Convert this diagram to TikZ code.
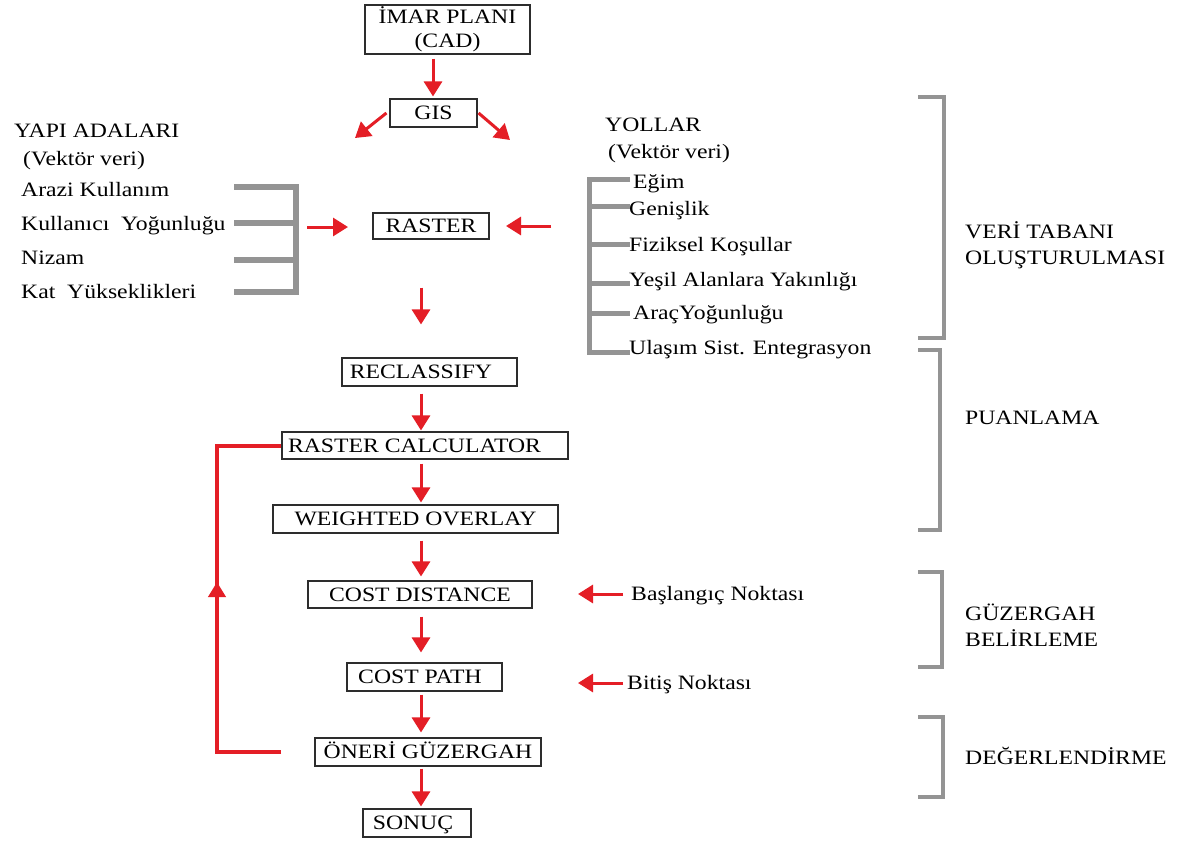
\documentclass[tikz,border=0pt]{standalone}
\usepackage{fontspec}
\setmainfont[FakeStretch=1.16]{Liberation Serif}
\usetikzlibrary{arrows.meta,decorations.markings}
\definecolor{flowred}{RGB}{228,30,38}
\definecolor{brgray}{RGB}{148,148,148}
\definecolor{boxline}{RGB}{45,45,45}
\begin{document}
\begin{tikzpicture}[x=1bp,y=-1bp,
  every node/.style={font=\fontsize{20.5}{26}\selectfont},
  box/.style={draw=boxline,line width=1.1bp,inner sep=0pt,text height=14bp,text depth=1bp},
  lbl/.style={anchor=west,inner sep=0pt,text height=14bp,text depth=2bp},
  grp/.style={anchor=west,inner sep=0pt,align=left},
  arr/.style={color=flowred,line width=3bp,-{Triangle[length=15bp,width=18bp]}},
  feedback/.style={color=flowred,line width=4bp},
  brk/.style={draw=brgray,line width=5bp},
  phase/.style={draw=brgray,line width=4bp}]

\fill[white] (0,0) rectangle (1181,843);
\useasboundingbox (0,0) rectangle (1181,843);

% main flow boxes
\node[draw=boxline,line width=1.1bp,inner sep=0pt,minimum width=165bp,minimum height=49bp,align=center,
      font=\fontsize{20.5}{24}\selectfont] (imar) at (447.5,29.5) {İMAR PLANI\\(CAD)};
\node[box,minimum width=87bp,minimum height=28bp] (gis) at (433.5,113) {GIS};
\node[box,minimum width=116bp,minimum height=26bp] (raster) at (431,226) {RASTER};
\node[box,minimum width=175bp,minimum height=28bp] (reclass) at (429.5,372) {\hspace{-17bp}RECLASSIFY};
\node[box,minimum width=286bp,minimum height=27bp] (rcalc) at (425,445.5) {\hspace{-21bp}RASTER CALCULATOR};
\node[box,minimum width=285bp,minimum height=28bp] (wover) at (415.5,519) {WEIGHTED OVERLAY};
\node[box,minimum width=224bp,minimum height=27bp] (cdist) at (420,594.5) {COST DISTANCE};
\node[box,minimum width=155bp,minimum height=28bp] (cpath) at (424.5,677) {\hspace{-9bp}COST PATH};
\node[box,minimum width=226bp,minimum height=28bp] (oneri) at (428,752) {ÖNERİ GÜZERGAH};
\node[box,minimum width=108bp,minimum height=28bp] (sonuc) at (417,823) {\hspace{-8bp}SONUÇ};

% left data group
\node[lbl] (yapi) at (14,131) {YAPI ADALARI};
\node[lbl] (yapiv) at (23,159) {(Vektör veri)};
\node[lbl] (arazi) at (21,190) {Arazi Kullanım};
\node[lbl] (kyog) at (21,224) {Kullanıcı\ \ Yoğunluğu};
\node[lbl] (nizam) at (21,258) {Nizam};
\node[lbl] (kat) at (21,292) {Kat\ \ Yükseklikleri};

% right data group
\node[lbl] (yollar) at (605,125) {YOLLAR};
\node[lbl] (yollarv) at (608,152) {(Vektör veri)};
\node[lbl] (egim) at (633,182) {Eğim};
\node[lbl] (genis) at (629,209) {Genişlik};
\node[lbl] (fiz) at (629,245) {Fiziksel Koşullar};
\node[lbl] (yesil) at (629,280) {Yeşil Alanlara Yakınlığı};
\node[lbl] (arac) at (633,313) {AraçYoğunluğu};
\node[lbl] (ulasim) at (629,348) {Ulaşım Sist. Entegrasyon};

% point inputs
\node[lbl] (bas) at (631,594) {Başlangıç Noktası};
\node[lbl] (bitis) at (627,683) {Bitiş Noktası};

% phase labels
\node[grp] (veri) at (965,245) {VERİ TABANI\\OLUŞTURULMASI};
\node[lbl] (puan) at (965,418) {PUANLAMA};
\node[grp] (guz) at (965,625) {GÜZERGAH\\BELİRLEME};
\node[lbl] (deger) at (965,758) {DEĞERLENDİRME};

% gray brackets of the data groups
\draw[brk,line width=6bp] (234,187) -- (296,187) -- (296,292) -- (234,292);
\draw[brk,line width=6bp] (234,223) -- (296,223);
\draw[brk,line width=6bp] (234,260) -- (296,260);
\draw[brk] (630,179) -- (589,179) -- (589,352) -- (630,352);
\foreach \yy in {206,244,283,313} \draw[brk] (589,\yy) -- (630,\yy);

% phase brackets
\draw[phase] (918,97) -- (944,97) -- (944,338) -- (918,338);
\draw[phase] (918,350) -- (940,350) -- (940,530) -- (918,530);
\draw[phase] (918,572) -- (942,572) -- (942,667) -- (918,667);
\draw[phase] (918,717) -- (943,717) -- (943,797) -- (918,797);

% arrow end points
\coordinate (ax) at (421,0);
\coordinate (gl) at (355,138);
\coordinate (gr) at (510,140);
\coordinate (lgrp) at (296,227);
\coordinate (lend) at (348,227);
\coordinate (rgrp) at (551,226);
\coordinate (rend) at (506,226);
\coordinate (basend) at (578,594);
\coordinate (bitend) at (578,683);
\coordinate (fbstart) at (281,752);
\coordinate (fbx) at (217,0);

% flow arrows
\draw[arr,shorten <=4bp,shorten >=2bp] (imar.south -| 433,0) -- (gis.north -| 433,0);
\draw[arr] ([xshift=-3bp]gis.west) -- (gl);
\draw[arr] ([xshift=1bp]gis.east) -- (gr);
\draw[arr,shorten <=11bp] (lgrp) -- (lend);
\draw[arr] (rgrp) -- (rend);
\draw[arr,shorten <=48bp,shorten >=33bp] (raster.south -| ax) -- (reclass.north -| ax);
\draw[arr,shorten <=7bp,shorten >=1bp] (reclass.south -| ax) -- (rcalc.north -| ax);
\draw[arr,shorten <=4bp,shorten >=2bp] (rcalc.south -| ax) -- (wover.north -| ax);
\draw[arr,shorten <=7bp,shorten >=4bp] (wover.south -| ax) -- (cdist.north -| ax);
\draw[arr,shorten <=8bp,shorten >=10bp] (cdist.south -| ax) -- (cpath.north -| ax);
\draw[arr,shorten <=3bp,shorten >=5bp] (cpath.south -| ax) -- (oneri.north -| ax);
\draw[arr,shorten <=2bp,shorten >=2bp] (oneri.south -| ax) -- (sonuc.north -| ax);
\draw[arr,shorten <=8bp] (bas.west) -- (basend);
\draw[arr,shorten <=4bp] (bitis.west) -- (bitend);

% feedback loop back to the raster calculator
\draw[feedback,postaction={decorate,decoration={markings,
      mark=at position 234bp with {\arrow{Triangle[length=15bp,width=17bp]}}}}]
  (fbstart) -| (fbx |- rcalc.west) -- (rcalc.west);
\end{tikzpicture}
\end{document}
